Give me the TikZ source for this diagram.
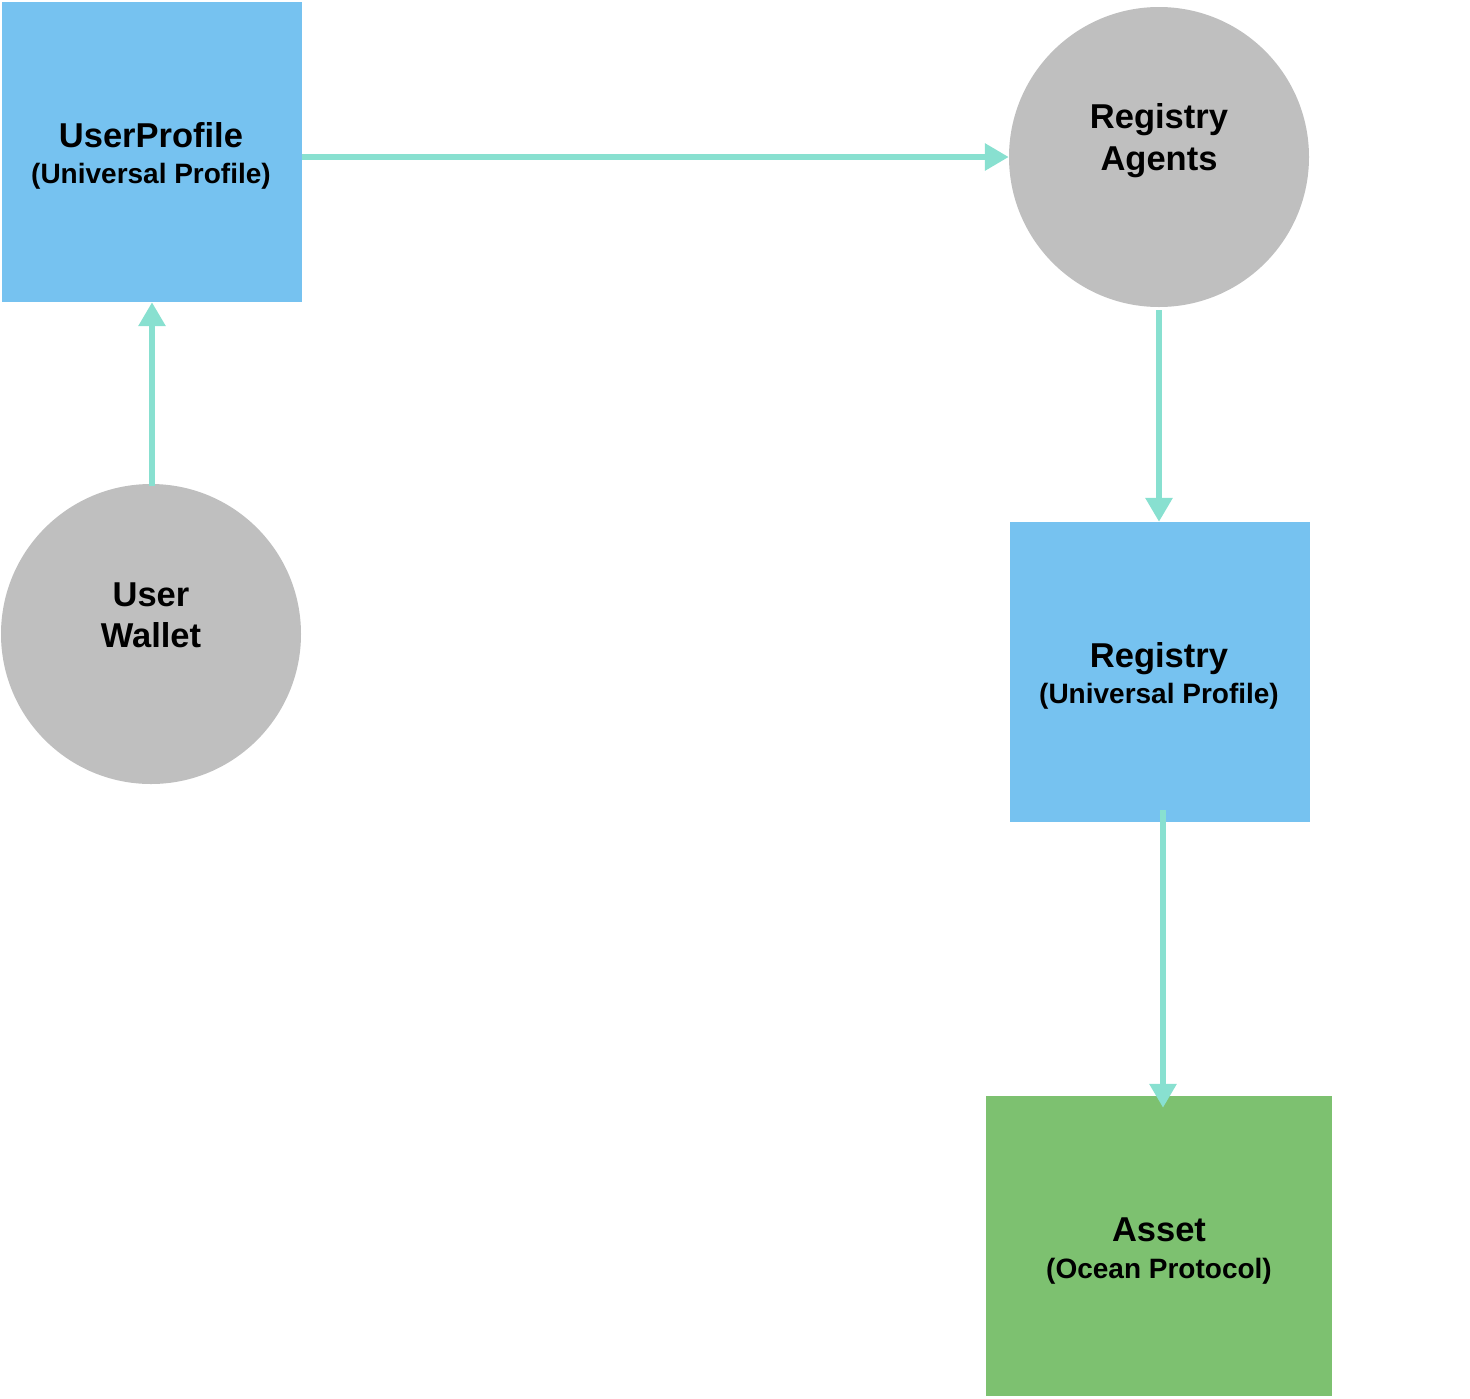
\documentclass[tikz,border=0pt]{standalone}
\usepackage{fontspec}
\setmainfont{Liberation Sans}
\usetikzlibrary{arrows.meta,calc}
\definecolor{boxblue}{RGB}{118,194,240}
\definecolor{circgray}{RGB}{191,191,191}
\definecolor{assetgreen}{RGB}{125,193,112}
\definecolor{mint}{RGB}{136,224,208}
\tikzset{
  bluebox/.style={rectangle, fill=boxblue, draw=none, inner sep=0pt, minimum width=300pt, minimum height=300pt},
  greenbox/.style={rectangle, fill=assetgreen, draw=none, inner sep=0pt, minimum width=346pt, minimum height=300pt},
  graycirc/.style={circle, fill=circgray, draw=none, inner sep=0pt, minimum size=300pt},
  title/.style={anchor=base, inner sep=0pt, font=\bfseries\fontsize{34.5}{40}\selectfont},
  subtitle/.style={anchor=base, inner sep=0pt, font=\bfseries\fontsize{28}{32}\selectfont},
  flow/.style={draw=mint, line width=6pt, -{Triangle[length=24pt, width=26pt]}}
}
\begin{document}
\begin{tikzpicture}[x=1pt, y=-1pt]
\useasboundingbox (0,0) rectangle (1470,1398);
% shapes
\node[bluebox] (up) at (152,152) {};
\node[graycirc] (ra) at (1159,157) {};
\node[graycirc] (uw) at (151,634) {};
\node[bluebox] (reg) at (1160,672) {};
\node[greenbox] (asset) at (1159,1246) {};
% texts
\node[title] (upt) at (151,147) {UserProfile};
\node[subtitle] (ups) at (151,183) {(Universal Profile)};
\node[title] (rat1) at (1159,128) {Registry};
\node[title] (rat2) at (1159,170) {Agents};
\node[title] (uwt1) at (151,606) {User};
\node[title] (uwt2) at (151,647) {Wallet};
\node[title] (regt) at (1159,667) {Registry};
\node[subtitle] (regs) at (1159,703) {(Universal Profile)};
\node[title] (at) at (1159,1241) {Asset};
\node[subtitle] (as) at (1159,1278) {(Ocean Protocol)};
% connectors
\draw[flow] (up.east |- ra.west) -- (ra.west);
\draw[flow] ($(up.south |- uw.north)+(0,2)$) -- (up.south);
\draw[flow] ($(ra.south)+(0,3)$) -- (ra.south |- reg.north);
\coordinate (c4s) at ($(reg.south)+(3,-12)$);
\coordinate (c4e) at ($(c4s |- asset.north)+(0,12)$);
\draw[flow] (c4s) -- (c4e);
\end{tikzpicture}
\end{document}
